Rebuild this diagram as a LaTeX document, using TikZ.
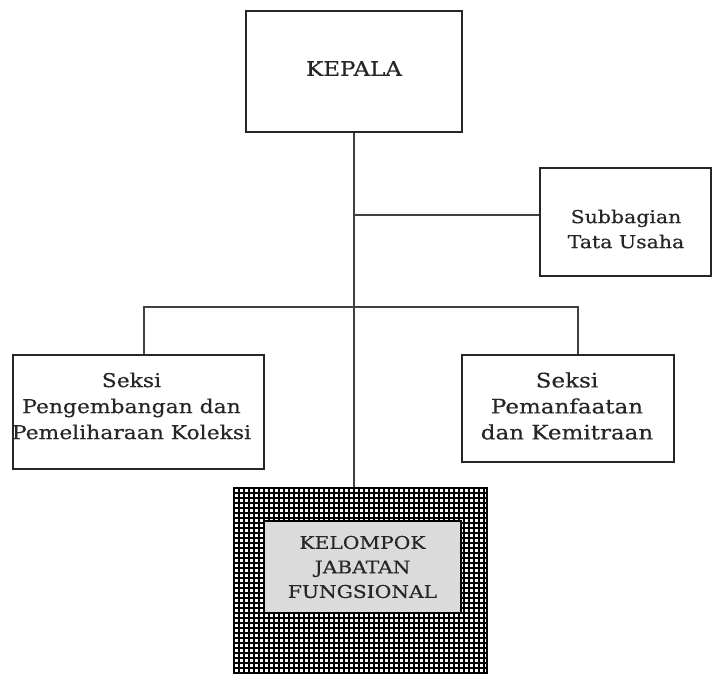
\documentclass[tikz,border=0pt]{standalone}
\usepackage{fontspec}
\setmainfont{DejaVu Serif}[FakeStretch=1.15,FakeBold=0.4]
\begin{document}
\begin{tikzpicture}[x=1pt,y=-1pt,
  frame/.style={draw=black!85, line width=1.4pt, fill=white, inner sep=0pt},
  lbl/.style={inner sep=0pt, align=center, text=black!85},
  conn/.style={draw=black!75, line width=1.3pt},
  big/.style={font=\fontsize{20}{26}\selectfont},
  lft/.style={font=\fontsize{19}{26}\selectfont},
  mid/.style={font=\fontsize{17.8}{25}\selectfont},
  inn/.style={font=\fontsize{17.6}{24.5}\selectfont},
  gridline/.style={black, line width=1.1pt},
]
\useasboundingbox (0,0) rectangle (712,674);
\fill[white] (0,0) rectangle (712,674);
% boxes
\node[frame, minimum width=216pt, minimum height=121pt] (kepala) at (354,71.5) {};
\node[lbl, big] (kepalat) at (354,68.5) {KEPALA};
\node[frame, minimum width=171pt, minimum height=108pt] (sub) at (625.5,222) {};
\node[lbl, mid] (subt) at (626,229) {Subbagian\\Tata Usaha};
\node[frame, minimum width=251pt, minimum height=114pt] (left) at (138.5,412) {};
\node[lbl, lft] (leftt) at (131.5,406) {Seksi\\Pengembangan dan\\Pemeliharaan Koleksi};
\node[frame, minimum width=212pt, minimum height=107pt] (right) at (568,408.5) {};
\node[lbl, big] (rightt) at (567,406) {Seksi\\Pemanfaatan\\dan Kemitraan};
% grid box
\begin{scope}
\clip (0,0) rectangle (712,674);
\node[draw=black, line width=1.4pt, fill=white, minimum width=253pt, minimum height=200pt, inner sep=0pt] (grid) at (360.5,588) {};
\foreach \i in {0,...,50} {\draw[gridline] (234+5*\i,488) -- (234+5*\i,690);}
\foreach \j in {0,...,38} {\draw[gridline] (234,488+5*\j) -- (487,488+5*\j);}
\end{scope}
\node[lbl, inn, fill=black!14, draw=black, line width=1.6pt, minimum width=197pt, minimum height=92pt] (inner) at (362.5,567) {KELOMPOK\\JABATAN\\FUNGSIONAL};
% connectors
\coordinate (j1) at (354,215);
\coordinate (lt) at (144,307);
\coordinate (rt) at (578,307);
\draw[conn] (kepala.south) -- (kepala.south |- grid.north);
\draw[conn] (j1) -- (sub.west |- j1);
\draw[conn] (lt |- left.north) -- (lt) -- (rt) -- (rt |- right.north);
\end{tikzpicture}
\end{document}
